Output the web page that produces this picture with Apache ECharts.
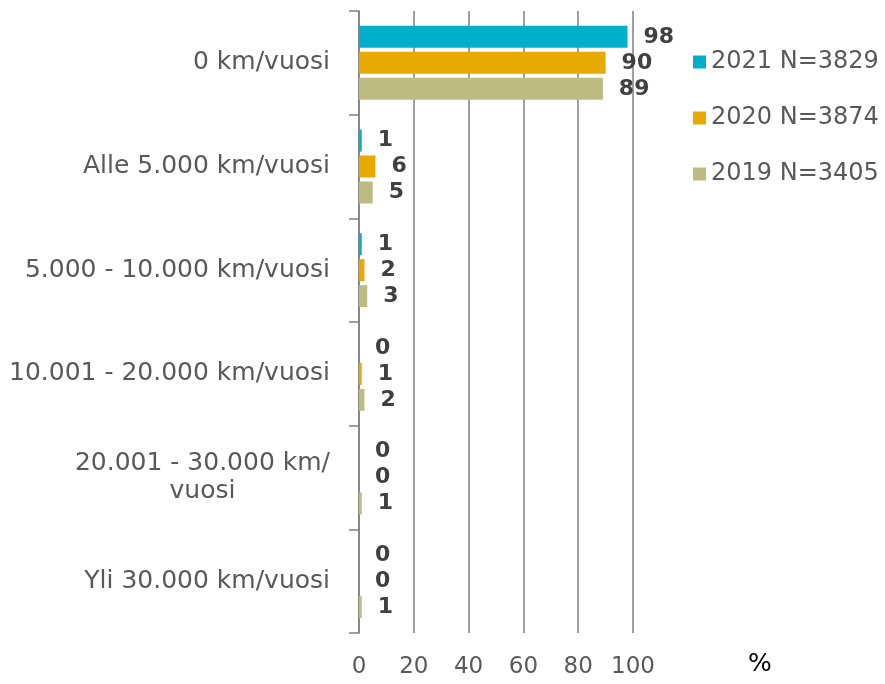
<!DOCTYPE html>
<html>
<head>
<meta charset="utf-8">
<script src="https://cdn.jsdelivr.net/npm/echarts@6/dist/echarts.min.js"></script>
<style>html,body{margin:0;padding:0;background:#fff}#c{width:885px;height:684px}</style>
</head>
<body>
<div id="c"></div>
<script>
const categories = ["0 km/vuosi", "Alle 5.000 km/vuosi", "5.000 - 10.000 km/vuosi", "10.001 - 20.000 km/vuosi", "20.001 - 30.000 km/\nvuosi", "Yli 30.000 km/vuosi"];
const seriesNames = ["2021 N=3829", "2020 N=3874", "2019 N=3405"];
const values2021 = [98, 1, 1, 0, 0, 0];
const values2020 = [90, 6, 2, 1, 0, 0];
const values2019 = [89, 5, 3, 2, 1, 1];
const xTicks = [0, 20, 40, 60, 80, 100];

const colors = ["#00b0cb", "#e8a900", "#bdbc80"];
const FONT = "DejaVu Sans";
const labelStyle = {fontSize: 25, fontFamily: FONT, color: "#595959", lineHeight: 28};

function mkSeries(name, data, color) {
  return {
    name: name, type: "bar", data: data, barWidth: 22, barGap: "18%",
    itemStyle: {color: color},
    label: {show: true, position: "right", distance: 16, fontFamily: FONT, fontWeight: "bold", fontSize: 22, color: "#404040"}
  };
}

const chart = echarts.init(document.getElementById("c"), null, {renderer: "canvas"});
chart.setOption({
  animation: false,
  color: colors,
  grid: {left: 359, right: 252, top: 11, bottom: 51, containLabel: false},
  legend: {
    orient: "vertical", left: 688, top: 45, itemWidth: 13, itemHeight: 13, itemGap: 32,
    icon: "rect", textStyle: {fontSize: 24, fontFamily: FONT, color: "#595959"},
    data: seriesNames
  },
  xAxis: {
    type: "value", min: xTicks[0], max: xTicks[xTicks.length - 1], interval: 20,
    axisLine: {show: false}, axisTick: {show: false},
    splitLine: {show: true, lineStyle: {color: "#808080", width: 1.5}},
    axisLabel: {margin: 23, fontSize: 23, fontFamily: FONT, color: "#595959",
      formatter: function (v) { return xTicks.indexOf(v) >= 0 ? String(v) : ""; }}
  },
  yAxis: {
    type: "category", data: categories, inverse: true,
    axisLine: {show: true, lineStyle: {color: "#808080", width: 1.5}},
    axisTick: {show: true, length: 10, lineStyle: {color: "#808080", width: 1.5}},
    axisLabel: {
      margin: 29, fontSize: 25, fontFamily: FONT, color: "#595959",
      formatter: function (v) {
        const parts = v.split("\n");
        if (parts.length === 1) return "{a|" + v + "}";
        return "{a|" + parts[0] + "}\n{b|" + parts[1] + "}";
      },
      rich: {
        a: labelStyle,
        b: Object.assign({}, labelStyle, {align: "center"})
      }
    }
  },
  graphic: [{type: "text", left: 748, top: 652, style: {text: "%", fontSize: 25, fontFamily: FONT, fill: "#000"}}],
  series: [
    mkSeries(seriesNames[0], values2021, colors[0]),
    mkSeries(seriesNames[1], values2020, colors[1]),
    mkSeries(seriesNames[2], values2019, colors[2])
  ]
});
</script>
</body>
</html>
